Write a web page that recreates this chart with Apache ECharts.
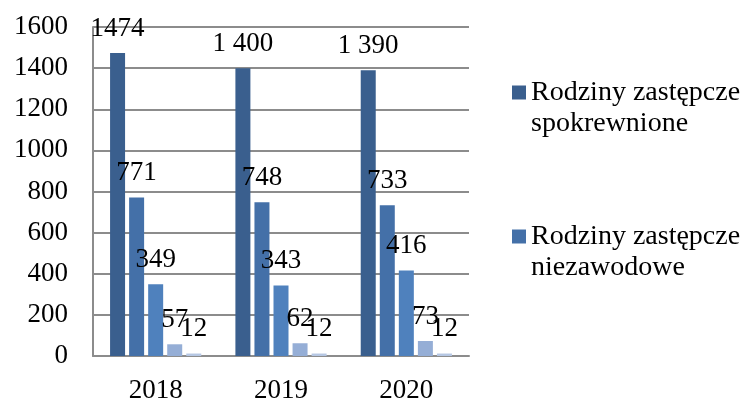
<!DOCTYPE html>
<html>
<head>
<meta charset="utf-8">
<script src="https://cdn.jsdelivr.net/npm/echarts@6/dist/echarts.min.js"></script>
<style>
  html, body { margin: 0; padding: 0; background: #fff; }
  #chart { width: 753px; height: 401px; }
</style>
</head>
<body>
<div id="chart"></div>
<script>
  var years = ['2018', '2019', '2020']
  var seriesNames = [
    'Rodziny zastępcze spokrewnione',
    'Rodziny zastępcze niezawodowe',
    'Rodziny zastępcze zawodowe',
    'Rodzinne domy dziecka',
    'Pogotowia rodzinne'
  ]
  var spokrewnione = [1474, 1400, 1390]
  var niezawodowe = [771, 748, 733]
  var zawodowe = [349, 343, 416]
  var domyDziecka = [57, 62, 73]
  var pogotowia = [12, 12, 12]
  // etykiety pierwszej serii zapisane w oryginale ze spacją
  var spokrewnioneLabels = ['1474', '1 400', '1 390']
  var yTicks = { min: 0, max: 1600, interval: 200 }

  var colors = ['#3a5f8e', '#4470a8', '#4f81bd', '#95aed6', '#b6c7e3']
  var font = 'Liberation Serif'
  var values = [spokrewnione, niezawodowe, zawodowe, domyDziecka, pogotowia]

  var series = values.map(function (data, i) {
    return {
      name: seriesNames[i],
      type: 'bar',
      data: data,
      barWidth: 15,
      barGap: '27%',
      itemStyle: { color: colors[i] },
      label: {
        show: true,
        position: 'top',
        distance: 11,
        color: '#000',
        fontFamily: font,
        fontSize: 27,
        formatter: function (p) {
          return i === 0 ? spokrewnioneLabels[p.dataIndex] : String(p.value)
        }
      }
    }
  })

  var myChart = echarts.init(document.getElementById('chart'))
  myChart.setOption({
    animation: false,
    color: colors,
    grid: { left: 93, right: 284, top: 27, bottom: 45, outerBoundsMode: 'none' },
    legend: {
      orient: 'vertical',
      left: 507,
      top: 41,
      itemWidth: 14,
      itemHeight: 14,
      itemGap: 51,
      icon: 'rect',
      data: [seriesNames[0], seriesNames[1]],
      // pusta pierwsza linia, żeby znacznik stał przy pierwszym wierszu tekstu
      formatter: function (name) {
        return ' \n' + name.replace('zastępcze ', 'zastępcze\n')
      },
      textStyle: {
        fontFamily: font,
        fontSize: 28,
        lineHeight: 31,
        color: '#000'
      }
    },
    xAxis: {
      type: 'category',
      data: years,
      axisTick: { show: false },
      axisLine: { lineStyle: { color: '#8c8c8c', width: 2 } },
      axisLabel: { color: '#000', fontFamily: font, fontSize: 27, margin: 21 }
    },
    yAxis: {
      type: 'value',
      min: yTicks.min,
      max: yTicks.max,
      interval: yTicks.interval,
      axisLine: { show: true, lineStyle: { color: '#8c8c8c', width: 2 } },
      axisTick: { show: false },
      splitLine: { lineStyle: { color: '#8c8c8c', width: 2 } },
      axisLabel: {
        color: '#000',
        fontFamily: font,
        fontSize: 27,
        margin: 25,
        formatter: function (v) { return String(v) }
      }
    },
    series: series
  })
</script>
</body>
</html>
